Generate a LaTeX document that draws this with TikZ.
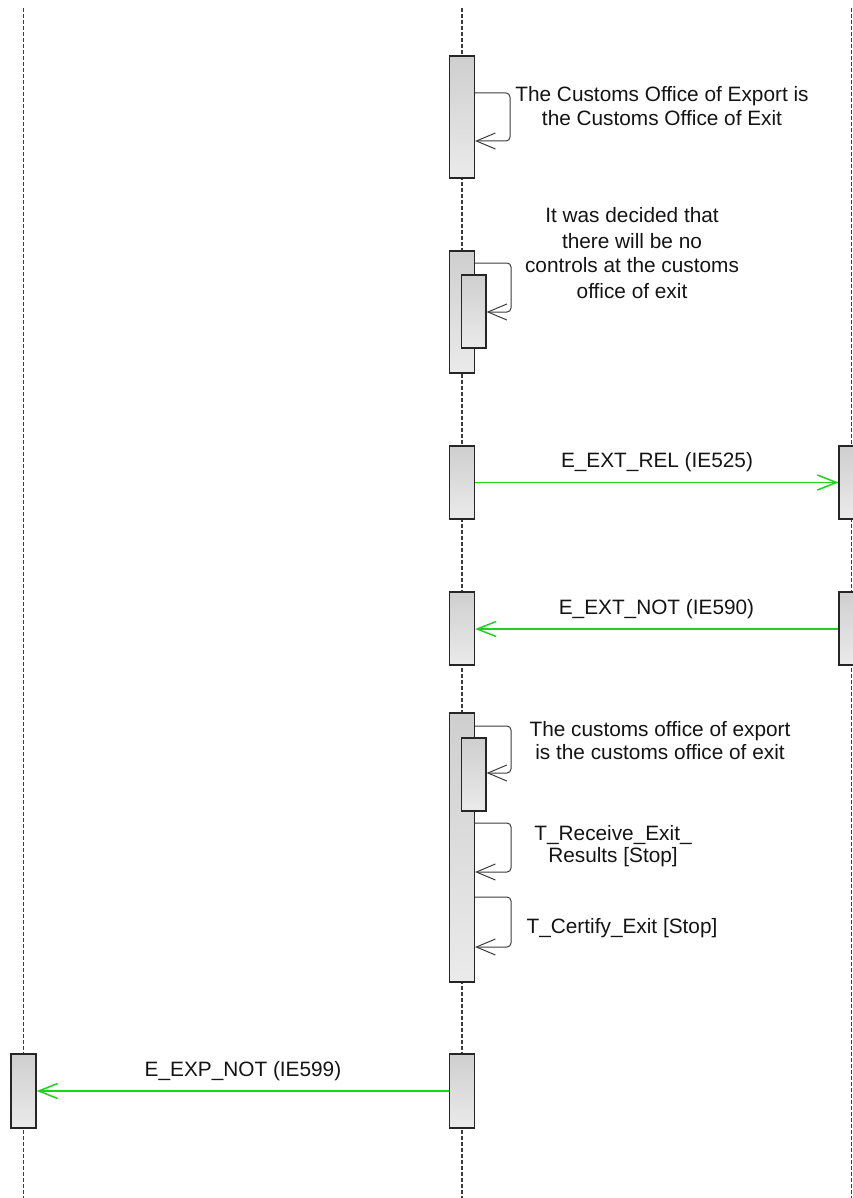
\documentclass[tikz,border=0pt]{standalone}
\usepackage{fontspec}
\setmainfont{Liberation Sans}
\usetikzlibrary{arrows.meta}
\definecolor{msggreen}{RGB}{30,210,30}
\definecolor{linegray}{RGB}{60,60,60}
\begin{document}
\begin{tikzpicture}[x=1pt,y=-1pt,
  lifeline/.style={draw=linegray, line width=1.1pt, dash pattern=on 4pt off 2pt},
  act/.style={draw=black!85, line width=1.2pt, rectangle, inner sep=0pt, minimum width=25pt, top color=black!19, bottom color=black!8},
  selfmsg/.style={draw=linegray, line width=1pt, rounded corners=4pt, -{Straight Barb[length=19pt,width=16pt]}},
  msg/.style={draw=msggreen, line width=1.5pt, -{Straight Barb[length=19pt,width=15pt]}},
  note/.style={align=center, inner sep=0pt, text=black!92}]
\clip (0,0) rectangle (853,1198);
% lifelines
\coordinate (Lt) at (23.5,8);   \coordinate (Lb) at (23.5,1198);
\coordinate (Mt) at (462,8);    \coordinate (Mb) at (462,1198);
\coordinate (Rt) at (851.5,8);  \coordinate (Rb) at (851.5,1198);
\draw[lifeline] (Lt) -- (Lb);
\draw[lifeline] (Mt) -- (Mb);
\draw[lifeline] (Rt) -- (Rb);
% activations
\node[act, minimum height=122pt] (a1) at (462,117) {};
\node[act, minimum height=122pt] (a2) at (462,312) {};
\node[act, minimum height=73pt, minimum width=24.5pt] (a2b) at (473.75,311.5) {};
\node[act, minimum height=73pt] (a3) at (462,482.5) {};
\node[act, minimum height=73pt] (r3) at (851.5,482.5) {};
\node[act, minimum height=73pt] (a4) at (462,628.5) {};
\node[act, minimum height=73pt] (r4) at (851.5,628.5) {};
\node[act, minimum height=269pt] (a5) at (462,847.5) {};
\node[act, minimum height=73pt, minimum width=24.5pt] (a5b) at (473.75,774.5) {};
\node[act, minimum height=74pt] (a6) at (462,1091) {};
\node[act, minimum height=74pt] (l6) at (23.5,1091) {};
% self messages
\draw[selfmsg] (a1.east |- 0,93) -- (510,93) -- (510,141) -- (a1.east |- 0,141);
\draw[selfmsg] (a2.east |- 0,263) -- (511,263) -- (511,312) -- (a2b.east |- 0,312);
\draw[selfmsg] (a5.east |- 0,726) -- (511,726) -- (511,773) -- (a5b.east |- 0,773);
\draw[selfmsg] (a5.east |- 0,823) -- (511,823) -- (511,872) -- (a5.east |- 0,872);
\draw[selfmsg] (a5.east |- 0,897) -- (511,897) -- (511,947) -- (a5.east |- 0,947);
% messages
\draw[msg] (a3.east |- 0,482.5) -- (r3.west |- 0,482.5);
\draw[msg] (r4.west |- 0,629) -- (a4.east |- 0,629);
\draw[msg] (a6.west |- 0,1091) -- (l6.east |- 0,1091);
% texts
\node[note, font=\fontsize{20.8}{24}\selectfont] (t1) at (662,109.2) {\strut The Customs Office of Export is\\the Customs Office of Exit\strut};
\node[note, font=\fontsize{20.8}{25}\selectfont] (t2) at (632,255.5) {\strut It was decided that\\there will be no\\controls at the customs\\office of exit\strut};
\node[note, font=\fontsize{20.8}{23}\selectfont] (t3) at (660,742.9) {\strut The customs office of export\\is the customs office of exit\strut};
\node[note, font=\fontsize{20.8}{21}\selectfont] (t4) at (613,847) {\strut T\_Receive\_Exit\_\\Results [Stop]\strut};
\node[note, font=\fontsize{20.8}{24}\selectfont] (t5) at (622,928.2) {\strut T\_Certify\_Exit [Stop]};
\node[note, font=\fontsize{20.8}{24}\selectfont] (m1) at (657,462.9) {\strut E\_EXT\_REL (IE525)};
\node[note, font=\fontsize{20.8}{24}\selectfont] (m2) at (656.5,609.2) {\strut E\_EXT\_NOT (IE590)};
\node[note, font=\fontsize{20.8}{24}\selectfont] (m3) at (243,1071.9) {\strut E\_EXP\_NOT (IE599)};
\end{tikzpicture}
\end{document}
